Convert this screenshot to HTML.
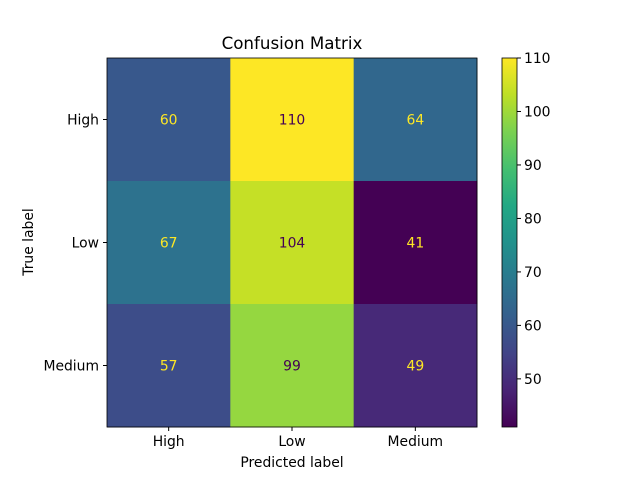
<!DOCTYPE html>
<html><head><meta charset="utf-8"><style>
body{margin:0;background:#fff}
svg text{font-family:"DejaVu Sans","Liberation Sans",sans-serif}
</style></head><body>
<svg id="chart" width="640" height="480" xmlns="http://www.w3.org/2000/svg">
<defs>
<linearGradient id="vir" x1="0" y1="1" x2="0" y2="0">
<stop offset="0" stop-color="#440154"/><stop offset="0.1" stop-color="#482475"/><stop offset="0.2" stop-color="#414487"/><stop offset="0.3" stop-color="#355f8d"/><stop offset="0.4" stop-color="#2a788e"/><stop offset="0.5" stop-color="#21918c"/><stop offset="0.6" stop-color="#22a884"/><stop offset="0.7" stop-color="#44bf70"/><stop offset="0.8" stop-color="#7ad151"/><stop offset="0.9" stop-color="#bddf26"/><stop offset="1" stop-color="#fde725"/>
</linearGradient>
</defs>
<text x="292" y="49" font-size="16.7" text-anchor="middle">Confusion Matrix</text>
<text x="292" y="467" font-size="13.9" text-anchor="middle">Predicted label</text>
<text transform="translate(33,242) rotate(-90)" font-size="13.9" text-anchor="middle">True label</text>
<g id="cells"></g>
<rect x="502" y="58" width="15" height="369" fill="url(#vir)" stroke="#000" stroke-width="0.8"/>
<g id="cbticks"></g>
</svg>
<script>
const labels=["High","Low","Medium"];
const matrix=[[60,110,64],[67,104,41],[57,99,49]];
const cbTicks=[50,60,70,80,90,100,110];
const stops=["#440154","#482475","#414487","#355f8d","#2a788e","#21918c","#22a884","#44bf70","#7ad151","#bddf26","#fde725"];
const NS="http://www.w3.org/2000/svg";
const L=107,T=58,W=370,H=369,n=labels.length,cw=W/n,ch=H/n;
const flat=matrix.flat(),vmin=Math.min(...flat),vmax=Math.max(...flat);
function hex(h){return [1,3,5].map(i=>parseInt(h.substr(i,2),16));}
function vir(t){t=Math.max(0,Math.min(1,t));const p=t*10,i=Math.min(9,Math.floor(p)),f=p-i;const a=hex(stops[i]),b=hex(stops[i+1]);return "rgb("+a.map((x,k)=>Math.round(x+(b[k]-x)*f)).join(",")+")";}
function mk(tag,attrs,parent){const e=document.createElementNS(NS,tag);for(const k in attrs)e.setAttribute(k,attrs[k]);parent.appendChild(e);return e;}
const cells=document.getElementById("cells"),svg=document.getElementById("chart");
matrix.forEach((row,r)=>row.forEach((v,c)=>{
 const rc=mk("rect",{x:L+c*cw,y:T+r*ch,width:cw+0.5,height:ch+0.5,fill:vir((v-vmin)/(vmax-vmin))},cells);
 
 
 const t=mk("text",{x:L+(c+0.5)*cw,y:T+(r+0.5)*ch+5,"font-size":13.9,"text-anchor":"middle",fill:v<(vmin+vmax)/2?"#fde725":"#440154"},cells);
 t.textContent=v;
 
 
}));
mk("rect",{x:L,y:T,width:W,height:H,fill:"none",stroke:"#000","stroke-width":0.8},cells);
labels.forEach((lb,i)=>{
 const x=L+(i+0.5)*cw;
 mk("line",{x1:x,x2:x,y1:T+H,y2:T+H+4,stroke:"#000"},svg);
 const t=mk("text",{x:x,y:T+H+19,"font-size":13.9,"text-anchor":"middle"},svg);t.textContent=lb;
 
 
 const y=T+(i+0.5)*ch;
 mk("line",{x1:L-4,x2:L,y1:y,y2:y,stroke:"#000"},svg);
 const u=mk("text",{x:L-8,y:y+5,"font-size":13.9,"text-anchor":"end"},svg);u.textContent=lb;
 
 
});
const cb=document.getElementById("cbticks");
cbTicks.forEach(v=>{
 const y=427-(v-vmin)/(vmax-vmin)*369;
 mk("line",{x1:517,x2:521,y1:y,y2:y,stroke:"#000"},cb);
 const t=mk("text",{x:524,y:y+5,"font-size":13.9},cb);t.textContent=v;
 
 
});
</script>
</body></html>
